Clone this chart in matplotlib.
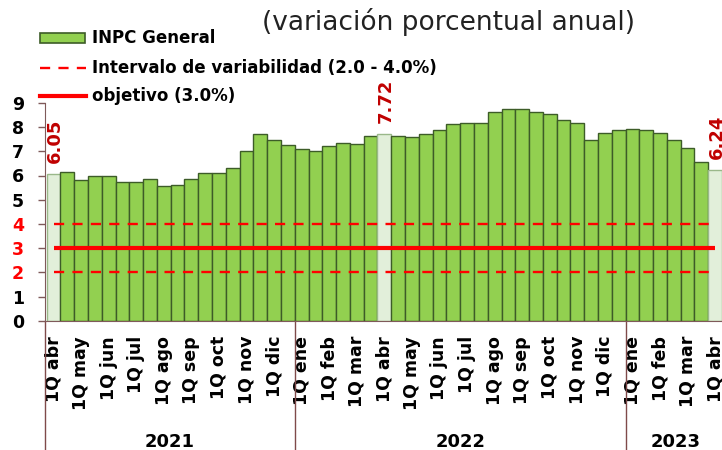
import numpy as np
import matplotlib
matplotlib.use("Agg")
import matplotlib.pyplot as plt
from matplotlib.patches import Rectangle
from matplotlib.lines import Line2D
import matplotlib.transforms as mtransforms

# ---------------- data ----------------
months = ["abr", "may", "jun", "jul", "ago", "sep", "oct", "nov", "dic",
          "ene", "feb", "mar", "abr", "may", "jun", "jul", "ago", "sep",
          "oct", "nov", "dic", "ene", "feb", "mar", "abr"]
tick_labels = ["1Q " + m for m in months]

inpc = [6.05, 6.13, 5.80, 5.99, 5.99, 5.73, 5.73, 5.87, 5.58, 5.61,
        5.87, 6.12, 6.12, 6.33, 7.03, 7.73, 7.45, 7.25,
        7.11, 7.03, 7.21, 7.34, 7.29, 7.62, 7.72, 7.65, 7.58, 7.72,
        7.88, 8.12, 8.16, 8.16, 8.62, 8.76, 8.76, 8.63, 8.55, 8.28,
        8.15, 7.46, 7.76, 7.86, 7.94, 7.89, 7.76, 7.46, 7.12, 6.57, 6.24]
highlight = [0, 24, 48]          # bars shown in light colour with value label
years = ["2021", "2022", "2023"]
year_bounds = [-0.62, 17.5, 41.5, 48.7]

target = 3.0
lower, upper = 2.0, 4.0

# ---------------- figure ----------------
W, H = 722, 450
fig = plt.figure(figsize=(W / 100, H / 100), dpi=100)
x0, x1, y0, y1 = 45, 724.8, 320.7, 102.9
ax = fig.add_axes([x0 / W, (H - y0) / H, (x1 - x0) / W, (y0 - y1) / H])

x = np.arange(len(inpc))
face = ["#e2efda" if i in highlight else "#92d050" for i in x]
edge = ["#9ab88a" if i in highlight else "#3d5c28" for i in x]
ax.bar(x, inpc, width=1.0, color=face, edgecolor=edge, linewidth=1.0, zorder=2)

ax.hlines([lower, upper], x[0], x[-1], colors="#ff0000", linewidth=1.7,
          linestyles=(0, (4.3, 3.5)), zorder=3)
ax.hlines(target, x[0], x[-1], colors="#ff0000", linewidth=3.0, zorder=3)

for i in highlight:
    ax.annotate(f"{inpc[i]:.2f}", (x[i], inpc[i]), xytext=(1, 8),
                textcoords="offset points", rotation=90, ha="center",
                va="bottom", color="#c00000", fontsize=13, fontweight="bold",
                annotation_clip=False)

ax.set_xlim(year_bounds[0], year_bounds[-1])
ax.set_ylim(0, 9)
ax.set_yticks(range(0, 10))
ax.set_yticklabels([str(v) for v in range(0, 10)], fontsize=12.5,
                   fontweight="bold")
for t, v in zip(ax.get_yticklabels(), range(0, 10)):
    t.set_color("#ff0000" if v in (2, 3, 4) else "black")

ax.set_xticks(x[::2])
ax.set_xticklabels(tick_labels, rotation=90, fontsize=12.5, fontweight="bold")
ax.tick_params(axis="x", length=0, pad=11)
ax.tick_params(axis="y", length=5, width=1, color="#7f5a5a", pad=10)

for s in ["top", "right"]:
    ax.spines[s].set_visible(False)
ax.spines["left"].set_color("#7f5a5a")
ax.spines["bottom"].set_color("#7f5a5a")

# year separators and labels
trans = mtransforms.blended_transform_factory(ax.transData, ax.transAxes)
for b in year_bounds[:-1]:
    ax.plot([b, b], [0, -0.62], transform=trans, color="#7f4a4a",
            linewidth=1.0, clip_on=False)
for yr, a, b in zip(years, year_bounds[:-1], year_bounds[1:]):
    ax.text((a + b) / 2, -0.515, yr, transform=trans, ha="center", va="top",
            fontsize=13, fontweight="bold")

# title
fig.text(449 / W, 1 - 22 / H, "(variación porcentual anual)", ha="center",
         va="center", fontsize=19, color="#222222")

# legend (manual)
def fx(px):
    return px / W

def fy(py):
    return 1 - py / H

fig.add_artist(Rectangle((fx(40), fy(43)), fx(85) - fx(40), fy(33) - fy(43),
                         transform=fig.transFigure, facecolor="#92d050",
                         edgecolor="#3d5c28", linewidth=1.2))
fig.add_artist(Line2D([fx(40), fx(86)], [fy(68), fy(68)],
                      transform=fig.transFigure, color="#ff0000",
                      linewidth=1.7, linestyle=(0, (4.3, 3.5))))
fig.add_artist(Line2D([fx(40), fx(86)], [fy(96), fy(96)],
                      transform=fig.transFigure, color="#ff0000",
                      linewidth=3.0))
for txt, py in [("INPC General", 38), ("Intervalo de variabilidad (2.0 - 4.0%)", 68),
                ("objetivo (3.0%)", 96)]:
    fig.text(fx(92), fy(py), txt, ha="left", va="center", fontsize=12,
             fontweight="bold", color="black")

fig.savefig("out.png", dpi=100)
